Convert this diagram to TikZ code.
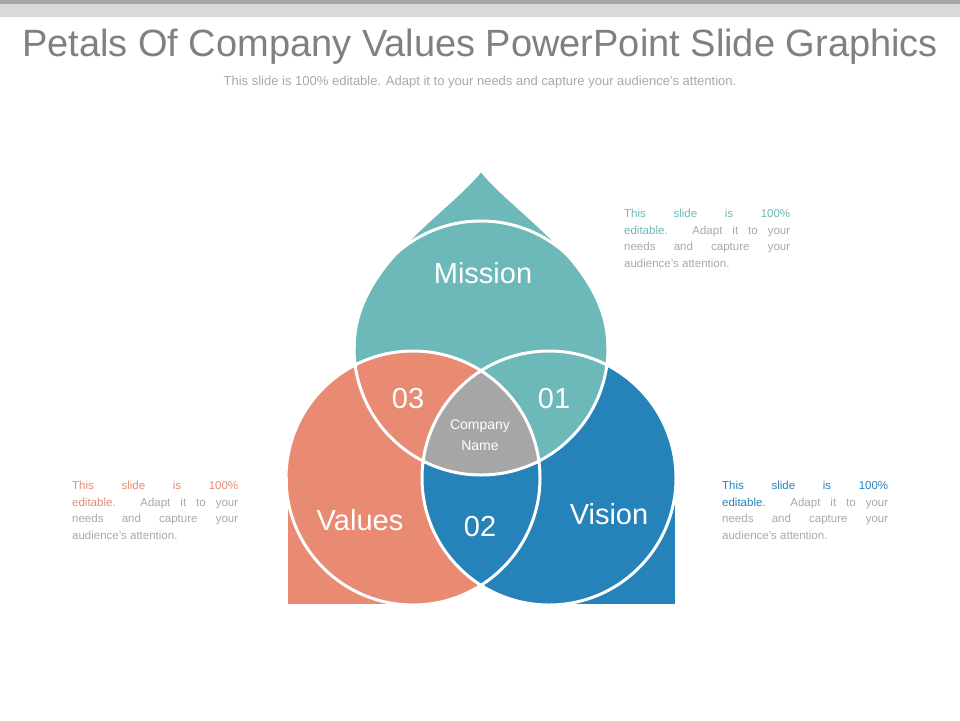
\documentclass[tikz,border=0pt]{standalone}
\usepackage{fontspec}
\setmainfont{Liberation Sans}
\definecolor{teal1}{HTML}{6DB8B8}
\definecolor{coral}{HTML}{E98A72}
\definecolor{blue1}{HTML}{2683BA}
\definecolor{gray1}{HTML}{A6A6A6}
\definecolor{txtgray}{HTML}{808080}
\definecolor{lightt}{HTML}{A8A8A8}
\begin{document}
\begin{tikzpicture}[x=1pt,y=-1pt,
  outl/.style={draw=white,line width=3pt},
  lab/.style={text=white,font=\fontsize{29}{32}\selectfont},
  para/.style={text width=166pt,align=justify,anchor=north west,inner sep=0pt,font=\fontsize{11.5}{16.5}\selectfont}]
\useasboundingbox (0,0) rectangle (960,720);
\fill[gray1] (0,0) rectangle (960,4);
\fill[gray!30] (0,4) rectangle (960,17);
\node[text=txtgray,font=\fontsize{38}{42}\selectfont] (title) at (480,47) {Petals Of Company Values PowerPoint Slide Graphics};
\node[text=lightt,font=\fontsize{13}{15}\selectfont] (sub) at (480,82) {This slide is 100\% editable. Adapt it to your needs and capture your audience's attention.};
% shapes
\coordinate (M) at (481,348);
\coordinate (L) at (413,478);
\coordinate (R) at (549,478);
\def\rr{127}
\fill[coral] (413,605) -- (286,605) -- (286,478) arc[start angle=180,end angle=450,radius=\rr] -- cycle;
\fill[blue1] (549,605) -- (676,605) -- (676,478) arc[start angle=0,end angle=-270,radius=\rr] -- cycle;
\fill[teal1] (354,348) .. controls (354,265) and (445,215) .. (481,170) .. controls (517,215) and (608,265) .. (608,348) arc[start angle=0,end angle=180,radius=\rr] -- cycle;
\begin{scope}\clip (L) circle (\rr); \fill[coral] (M) circle (\rr); \end{scope}
\begin{scope}\clip (R) circle (\rr); \fill[teal1] (M) circle (\rr); \end{scope}
\begin{scope}\clip (L) circle (\rr); \fill[blue1] (R) circle (\rr); \end{scope}
\begin{scope}\clip (L) circle (\rr); \clip (R) circle (\rr); \fill[gray1] (M) circle (\rr); \end{scope}
% outlines
\draw[outl] (413,605) -- (286,605) -- (286,478);
\draw[outl] (549,605) -- (676,605) -- (676,478);
\draw[outl] (354,348) .. controls (354,265) and (445,215) .. (481,170) .. controls (517,215) and (608,265) .. (608,348);
\draw[outl] (M) circle (\rr) (L) circle (\rr) (R) circle (\rr);
% labels
\node[lab] (mis) at (483,273) {Mission};
\node[lab] (val) at (360,520) {Values};
\node[lab] (vis) at (609,514) {Vision};
\node[lab] (n3) at (408,399) {03};
\node[lab] (n1) at (554,399) {01};
\node[lab] (n2) at (480,527) {02};
\node[text=white,align=center,font=\fontsize{14}{21}\selectfont] (cn) at (480,435) {Company\\Name};
\node[para] (p1) at (624,209) {\textcolor{teal1}{This slide is 100\%\linebreak editable.} \textcolor{lightt}{Adapt it to your\linebreak needs and capture your\linebreak audience's attention.}};
\node[para] (p2) at (72,481) {\textcolor{coral}{This slide is 100\%\linebreak editable.} \textcolor{lightt}{Adapt it to your\linebreak needs and capture your\linebreak audience's attention.}};
\node[para] (p3) at (722,481) {\textcolor{blue1}{This slide is 100\%\linebreak editable.} \textcolor{lightt}{Adapt it to your\linebreak needs and capture your\linebreak audience's attention.}};
\end{tikzpicture}
\end{document}
